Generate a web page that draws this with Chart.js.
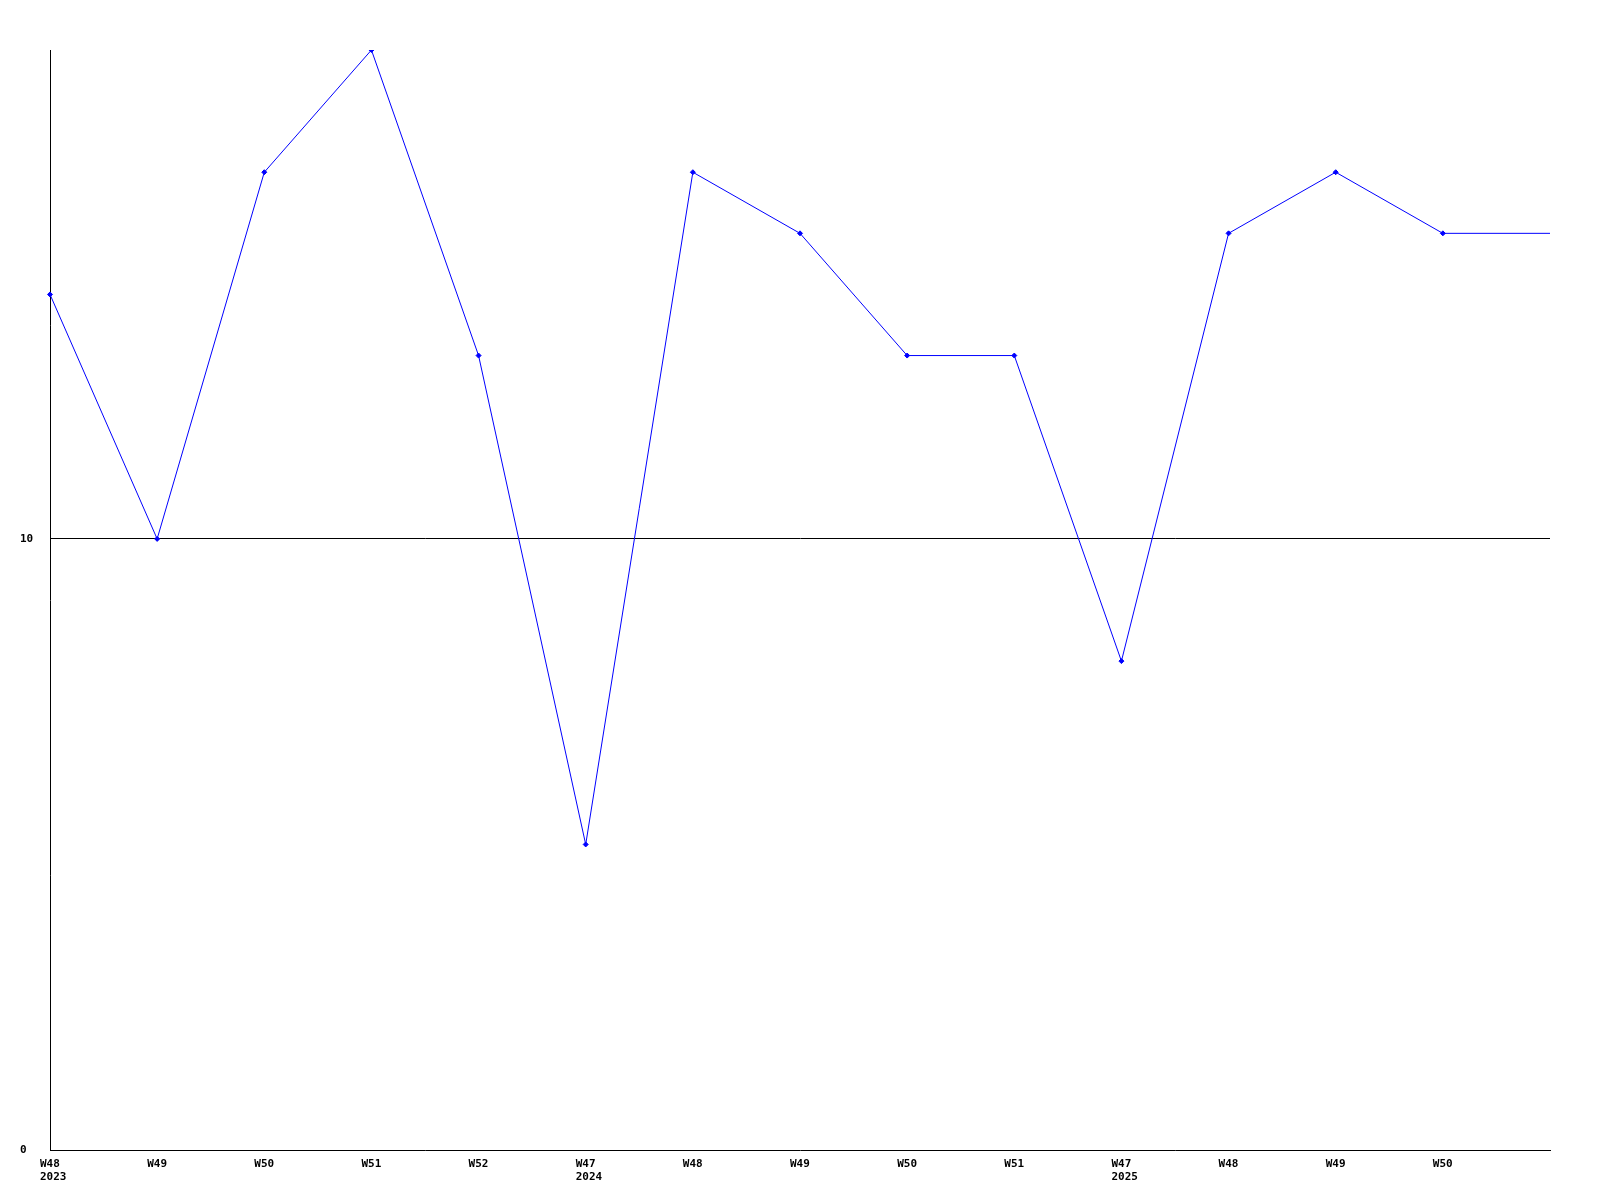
<!DOCTYPE html>
<html>
<head>
<meta charset="utf-8">
<script src="https://cdn.jsdelivr.net/npm/chart.js@4/dist/chart.umd.min.js"></script>
<style>
html,body{margin:0;padding:0;background:#fff;}
#wrap{width:1600px;height:1200px;}
</style>
</head>
<body>
<div id="wrap"><canvas id="c" width="1600" height="1200"></canvas></div>
<script>
const weekLabels = [['W48','2023'],'W49','W50','W51','W52',['W47','2024'],'W48','W49','W50','W51',['W47','2025'],'W48','W49','W50',''];
const seriesValues = [14,10,16,18,13,5,16,15,13,13,8,15,16,15,15];
const yTickValues = [0,10];

const FONT = {family:'"DejaVu Sans Mono", "Liberation Mono", monospace', size:11, weight:'bold', lineHeight:1.25};

new Chart(document.getElementById('c'), {
  type:'line',
  data:{
    labels: weekLabels,
    datasets:[{
      data: seriesValues,
      borderColor:'#0000ff',
      backgroundColor:'#0000ff',
      borderWidth:1,
      tension:0,
      fill:false,
      pointStyle:'rectRot',
      pointRadius: seriesValues.map((v,i)=> i===seriesValues.length-1 ? 0 : 2.5),
      pointBorderWidth:1,
      pointHoverRadius:0
    }]
  },
  options:{
    responsive:false,
    animation:false,
    events:[],
    layout:{padding:{top:50,right:50,left:20,bottom:0}},
    plugins:{legend:{display:false},tooltip:{enabled:false}},
    scales:{
      x:{
        offset:false,
        grid:{display:false,drawTicks:false},
        border:{display:true,color:'#000',width:1},
        ticks:{autoSkip:false,maxRotation:0,minRotation:0,align:'start',labelOffset:-10,padding:7,color:'#000',font:FONT},
        afterFit(s){ s.height = 50; }
      },
      y:{
        min:0,max:18,
        afterBuildTicks(s){ s.ticks = yTickValues.map(v=>({value:v})); },
        grid:{drawTicks:false,color(ctx){ return ctx.tick && ctx.tick.value===10 ? '#000' : 'rgba(0,0,0,0)'; },lineWidth:1},
        border:{display:true,color:'#000',width:1},
        ticks:{crossAlign:'far',padding:0,color:'#000',font:FONT},
        afterFit(s){ s.width = 30; }
      }
    }
  }
});
</script>
</body>
</html>
